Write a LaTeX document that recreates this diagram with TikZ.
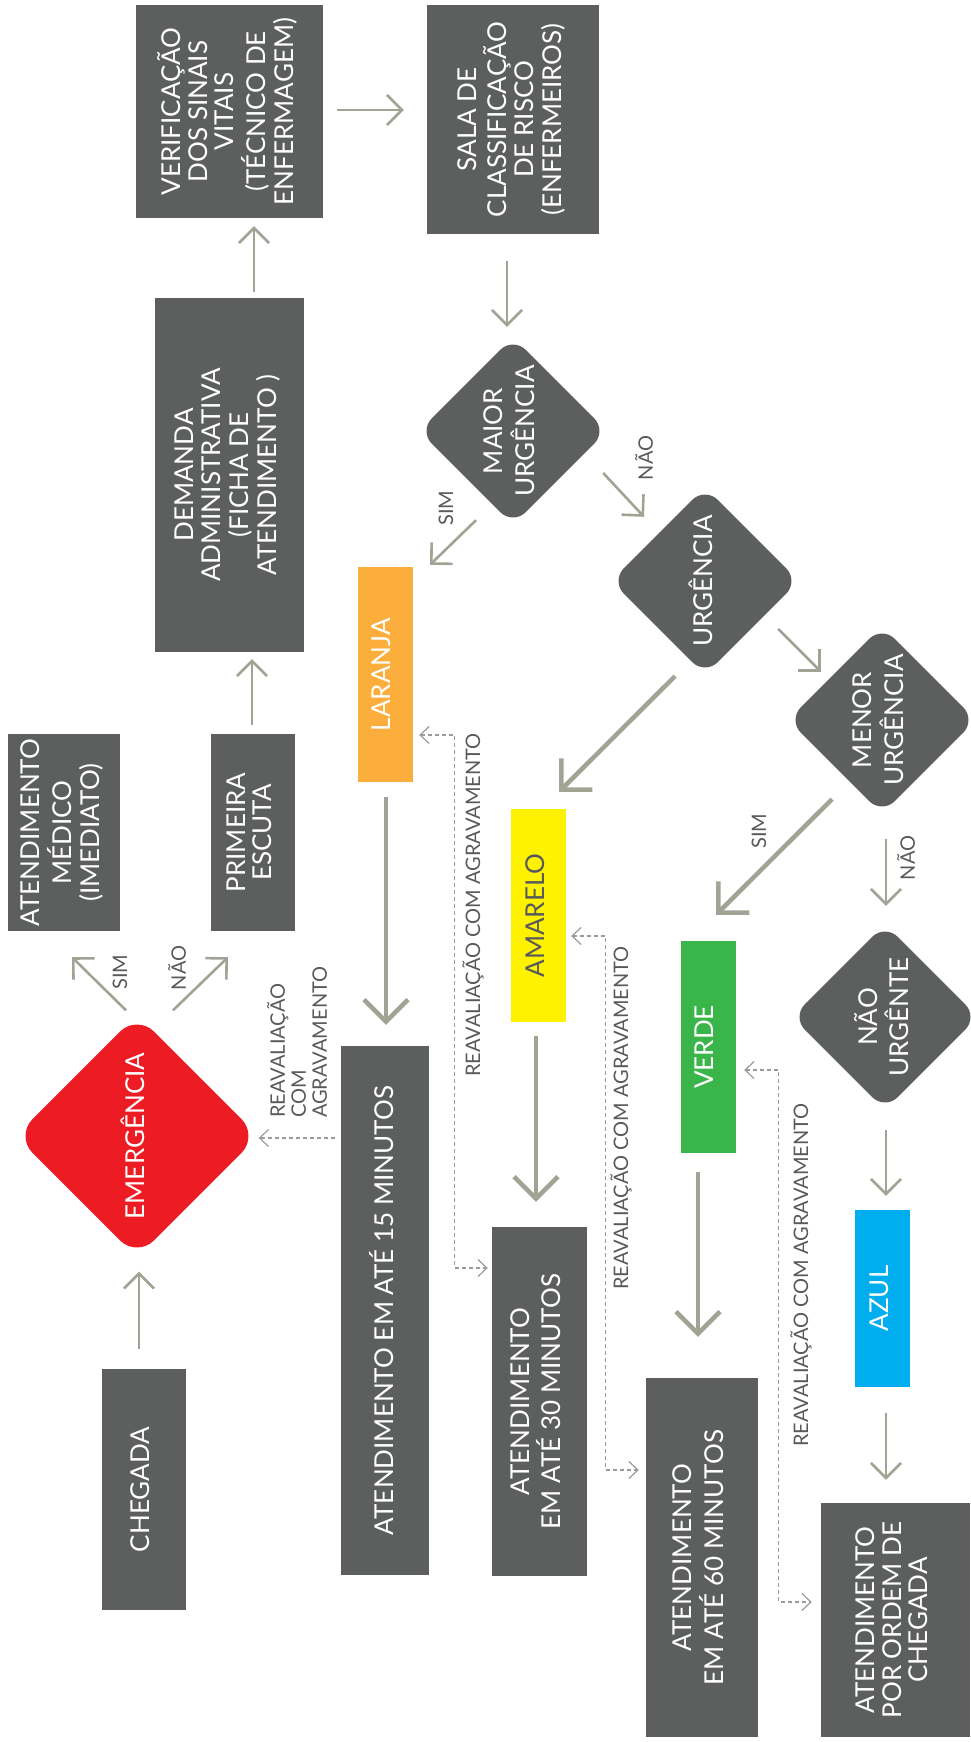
\documentclass[tikz,border=0pt]{standalone}
\usepackage{fontspec}
\setmainfont{Lato}
\usetikzlibrary{shapes.geometric,arrows.meta,calc}
\definecolor{boxgray}{RGB}{92,95,94}
\definecolor{arrowgray}{RGB}{162,163,148}
\definecolor{labelgray}{RGB}{88,89,91}
\definecolor{dashgray}{RGB}{155,155,155}
\definecolor{laranjac}{RGB}{251,174,60}
\definecolor{amareloc}{RGB}{255,242,0}
\definecolor{verdec}{RGB}{58,181,74}
\definecolor{azulc}{RGB}{0,174,239}
\definecolor{vermelhoc}{RGB}{237,28,36}
\newcommand{\vtext}[1]{\rotatebox{90}{\begin{tabular}{@{}c@{}}#1\end{tabular}}}
\begin{document}
\begin{tikzpicture}[x=1pt,y=-1pt,
  box/.style={rectangle, fill=boxgray, text=white, inner sep=0pt, font=\fontsize{26}{25.5}\selectfont},
  dia/.style={diamond, minimum width=188pt, minimum height=188pt, inner sep=0pt, rounded corners=18pt, fill=boxgray},
  diatext/.style={text=white, inner sep=0pt, font=\fontsize{26}{25.5}\selectfont},
  lbl/.style={rotate=90, text=labelgray, inner sep=0pt, font=\fontsize{20}{21}\selectfont},
  arr/.style={draw=arrowgray, line width=2.6pt, -{Straight Barb[length=15pt,width=30pt]}},
  bigarr/.style={draw=arrowgray, line width=4.5pt, -{Straight Barb[length=22pt,width=44pt]}},
  dasharr/.style={draw=dashgray, line width=1.2pt, dash pattern=on 4pt off 3pt},
  dtip/.tip={Straight Barb[length=9pt,width=17pt]}
]
\useasboundingbox (0,0) rectangle (970,1742);

% boxes
\node[box, minimum width=187pt, minimum height=213pt] (verif) at (229.5,111.5)
  {\vtext{VERIFICAÇÃO\\DOS SINAIS\\VITAIS\\(TÉCNICO DE\\ENFERMAGEM)}};
\node[box, minimum width=172pt, minimum height=229pt] (sala) at (513,119.5)
  {\vtext{SALA DE\\CLASSIFICAÇÃO\\DE RISCO\\(ENFERMEIROS)}};
\node[box, minimum width=149pt, minimum height=354pt] (demanda) at (229.5,475)
  {\vtext{DEMANDA\\ADMINISTRATIVA\\(FICHA DE\\ATENDIMENTO )}};
\node[box, minimum width=112pt, minimum height=197pt] (atmed) at (64,832.5)
  {\vtext{ATENDIMENTO\\MÉDICO\\(IMEDIATO)}};
\node[box, minimum width=84pt, minimum height=197pt] (primeira) at (253,832.5)
  {\vtext{PRIMEIRA\\ESCUTA}};
\node[box, fill=laranjac, minimum width=55pt, minimum height=215pt] (laranja) at (385.5,674.5)
  {\vtext{LARANJA}};
\node[box, fill=amareloc, text=labelgray, minimum width=55pt, minimum height=213pt] (amarelo) at (538.5,915.5)
  {\vtext{AMARELO}};
\node[box, fill=verdec, minimum width=55pt, minimum height=212pt] (verde) at (708.5,1047)
  {\vtext{VERDE}};
\node[box, fill=azulc, minimum width=55pt, minimum height=177pt] (azul) at (882.5,1298.5)
  {\vtext{AZUL}};
\node[box, minimum width=88pt, minimum height=529pt] (min15) at (385,1310.5)
  {\vtext{ATENDIMENTO EM ATÉ 15 MINUTOS}};
\node[box, minimum width=95pt, minimum height=349pt] (min30) at (539.5,1401.5)
  {\vtext{ATENDIMENTO\\EM ATÉ 30 MINUTOS}};
\node[box, minimum width=112pt, minimum height=359pt] (min60) at (702,1557.5)
  {\vtext{ATENDIMENTO\\EM ATÉ 60 MINUTOS}};
\node[box, minimum width=149pt, minimum height=234pt] (ordem) at (895.5,1620)
  {\vtext{ATENDIMENTO\\POR ORDEM DE\\CHEGADA}};
\node[box, minimum width=84pt, minimum height=241pt] (chegada) at (144,1489.5)
  {\vtext{CHEGADA}};

% diamonds
\node[dia, label={[diatext]center:{\vtext{MAIOR\\URGÊNCIA}}}] (maior) at (513,431) {};
\node[dia, label={[diatext]center:{\vtext{URGÊNCIA}}}] (urg) at (705,581) {};
\node[dia, label={[diatext]center:{\vtext{MENOR\\URGÊNCIA}}}] (menor) at (882,720) {};
\node[dia, minimum width=186pt, minimum height=186pt, label={[diatext]center:{\vtext{NÃO\\URGÊNTE}}}] (naourg) at (885,1017) {};
\node[dia, fill=vermelhoc, minimum width=243pt, minimum height=243pt, rounded corners=24pt, label={[diatext]center:{\vtext{EMERGÊNCIA}}}] (emerg) at (137,1136) {};

% thin arrows
\draw[arr] ($(demanda.north)+(24.5,-6)$) -- ($(verif.south)+(24.5,8)$);
\draw[arr] ($(verif.east)+(14,-1.5)$) -- ($(sala.west)+(-23,-9.5)$);
\draw[arr] ($(sala.south)+(-6,27)$) -- ($(maior.north)+(-6,-10)$);
\draw[arr] ($(maior.south)+(-37,-5)$) -- ($(laranja.north)+(44.5,-2)$);
\draw[arr] ($(maior.east)+(-4,42)$) -- ($(urg.north)+(-61,30)$);
\draw[arr] ($(urg.east)+(-21,48)$) -- ($(menor.north)+(-61,46)$);
\draw[arr] ($(menor.south)+(4,25)$) -- ($(naourg.north)+(1,-18)$);
\draw[arr] ($(naourg.south)+(1,20)$) -- ($(azul.north)+(3.5,-14)$);
\draw[arr] ($(azul.south)+(3.5,26)$) -- ($(ordem.north)+(-9.5,-23)$);
\draw[arr] ($(primeira.north)+(-1,-9)$) -- ($(demanda.south)+(22.5,7)$);
\draw[arr] ($(chegada.north)+(-5,-20)$) -- ($(emerg.south)+(2,14)$);
\draw[arr] ($(emerg.north)+(-11,-4)$) -- ($(atmed.south)+(8,26)$);
\draw[arr] ($(emerg.north)+(36,-4)$) -- ($(primeira.south)+(-25,26)$);

% thick arrows
\draw[bigarr] ($(urg.south)+(-30,1)$) -- ($(amarelo.north)+(20.5,-17)$);
\draw[bigarr] ($(menor.south)+(-50,-15)$) -- ($(verde.north)+(7.5,-26)$);
\draw[bigarr] ($(laranja.south)+(0.5,15)$) -- ($(min15.north)+(1,-21)$);
\draw[bigarr] ($(amarelo.south)+(-2.5,14)$) -- ($(min30.north)+(-3.5,-25)$);
\draw[bigarr] ($(verde.south)+(-10.5,19)$) -- ($(min60.north)+(-4,-41)$);

% dashed arrows
\draw[dasharr, dtip-dtip] ($(laranja.east)+(6,60.5)$) -- ++(35,0) |- ($(min30.west)+(-4,-133.5)$);
\draw[dasharr, dtip-dtip] ($(amarelo.east)+(5,20.5)$) -- ++(34,0) |- ($(min60.west)+(-7,-87.5)$);
\draw[dasharr, dtip-dtip] ($(verde.east)+(8,23)$) -- ++(34,0) |- ($(ordem.west)+(-9,-18)$);
\draw[dasharr, -dtip] ($(min15.west)+(-6,-172.5)$) -- ($(emerg.east)+(0,2)$);

% labels
\node[lbl] (l1) at (473,905) {REAVALIAÇÃO COM AGRAVAMENTO};
\node[lbl] (l2) at (621,1118) {REAVALIAÇÃO COM AGRAVAMENTO};
\node[lbl] (l3) at (801,1275) {REAVALIAÇÃO COM AGRAVAMENTO};
\node[lbl, anchor=west, align=left, font=\fontsize{20}{21}\selectfont] (l4) at (297,1118) {REAVALIAÇÃO\\COM\\AGRAVAMENTO};
\node[lbl] (s1) at (446,508) {SIM};
\node[lbl] (n1) at (644,458) {NÃO};
\node[lbl] (s2) at (759,831) {SIM};
\node[lbl] (n2) at (906,858) {NÃO};
\node[lbl] (s3) at (120,972) {SIM};
\node[lbl] (n3) at (177,968) {NÃO};
\end{tikzpicture}
\end{document}
